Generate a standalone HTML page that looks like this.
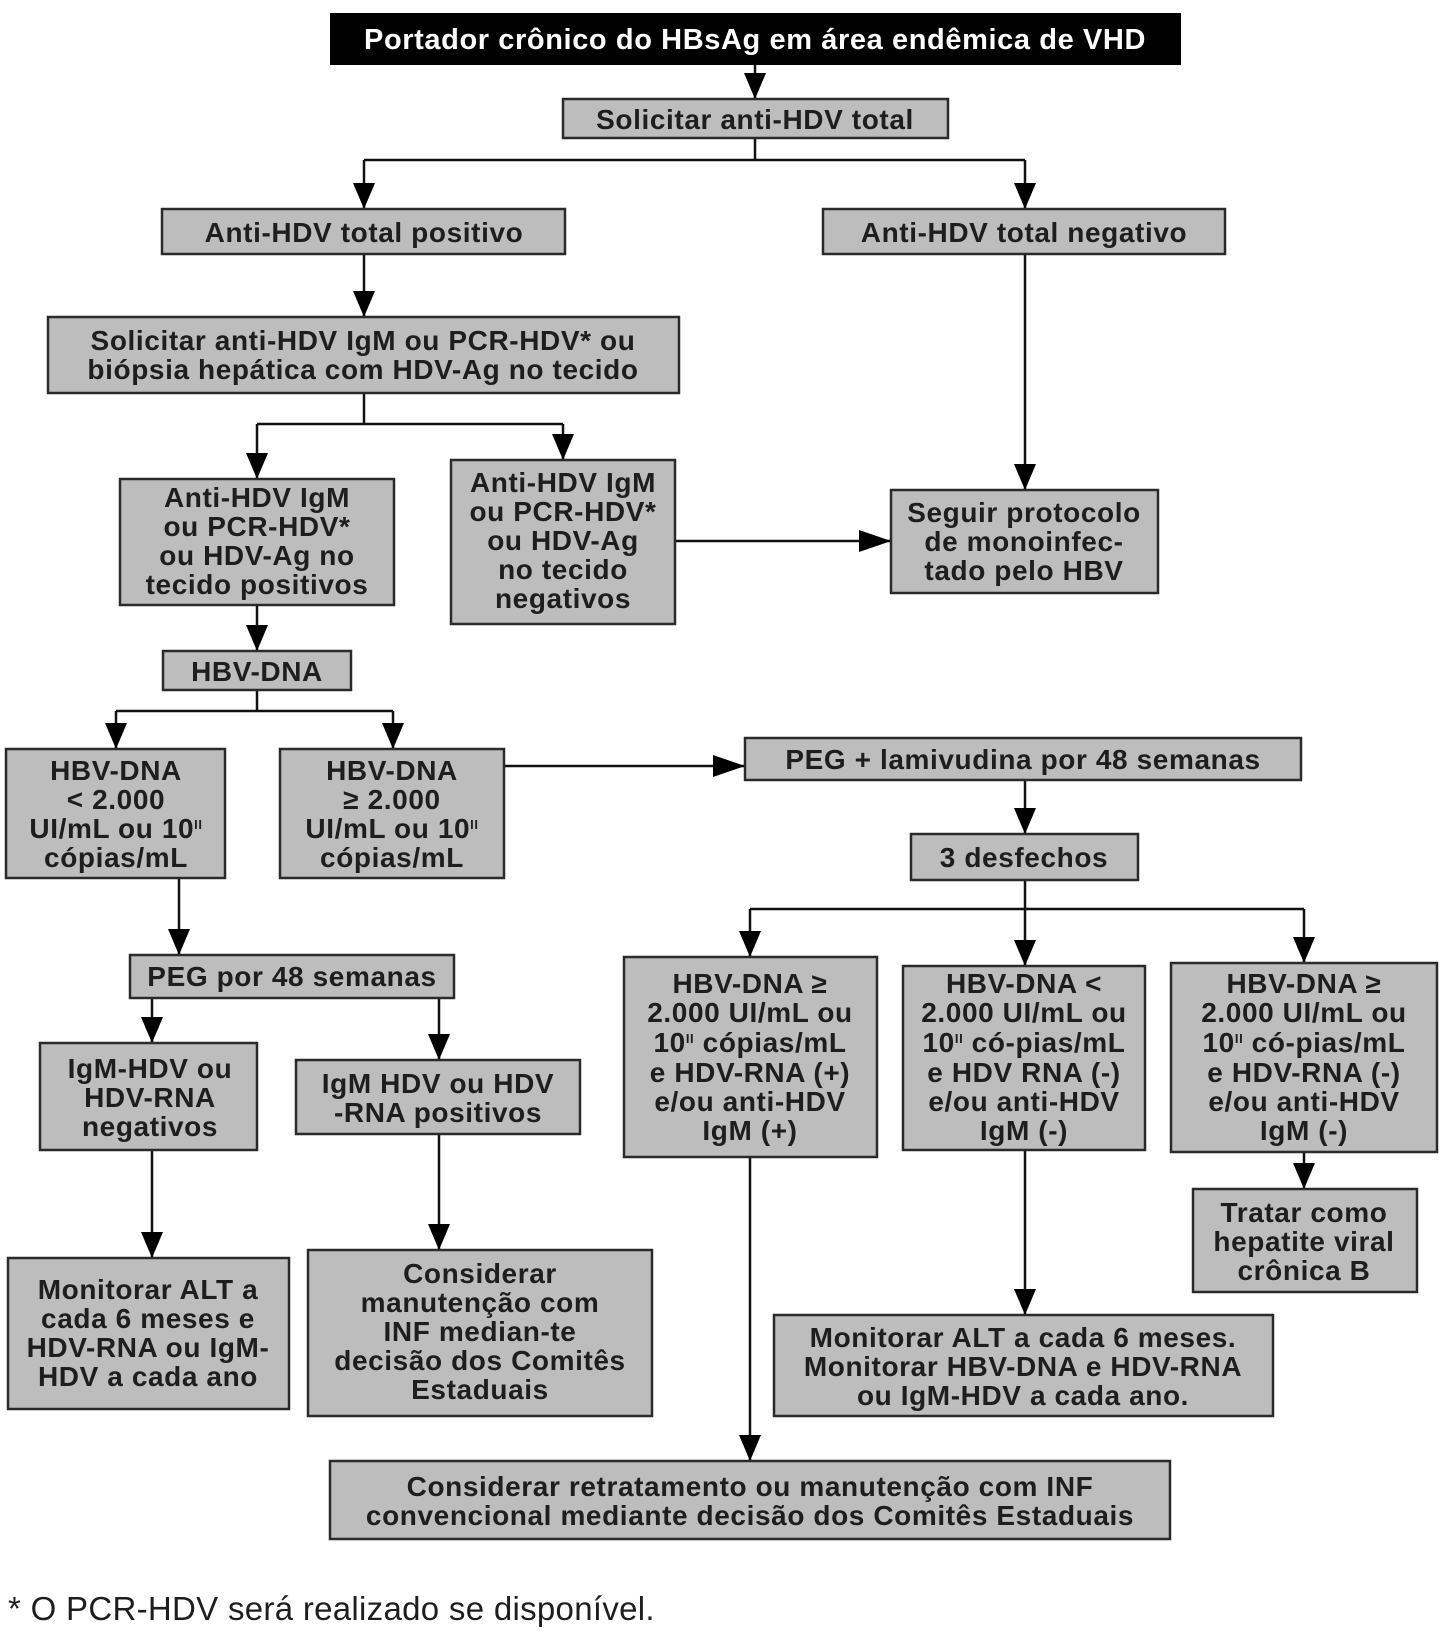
<!DOCTYPE html>
<html><head><meta charset="utf-8"><style>
html,body{margin:0;padding:0;background:#fff}
svg{display:block}
text{font-family:"Liberation Sans",sans-serif;font-weight:bold;font-size:28px;letter-spacing:0.6px;fill:#1e1e1e;text-anchor:middle}
.b{fill:#bdbdbd;stroke:#2a2a2a;stroke-width:2.5}
.l{stroke:#111;stroke-width:2.5;fill:none}
.a{fill:#000}
</style></head><body>
<svg width="1452" height="1631" viewBox="0 0 1452 1631" xmlns="http://www.w3.org/2000/svg">
<g class="l">
<path d="M755 65V99"/>
<path d="M755 138V160M364 160H1025M364 160V209M1025 160V209"/>
<path d="M364 254V317"/>
<path d="M364 393V424M257 424H563M257 424V479M563 424V460"/>
<path d="M1025 254V490"/>
<path d="M675 541H891"/>
<path d="M257 605V651"/>
<path d="M257 690V711M116 711H393M116 711V749M393 711V749"/>
<path d="M504 766H745"/>
<path d="M179 878V955"/>
<path d="M152 998V1043M439 998V1060"/>
<path d="M152 1150V1258M439 1134V1250"/>
<path d="M1025 780V834"/>
<path d="M1025 880V909M750 909H1304M750 909V957M1025 909V966M1304 909V963"/>
<path d="M750 1157V1461M1025 1150V1315M1304 1152V1189"/>
</g>
<g class="a">
<polygon points="744,73 766,73 755,99"/>
<polygon points="353,183 375,183 364,209"/>
<polygon points="1014,183 1036,183 1025,209"/>
<polygon points="353,291 375,291 364,317"/>
<polygon points="246,453 268,453 257,479"/>
<polygon points="552,434 574,434 563,460"/>
<polygon points="1014,464 1036,464 1025,490"/>
<polygon points="859,530 859,552 891,541"/>
<polygon points="246,625 268,625 257,651"/>
<polygon points="105,723 127,723 116,749"/>
<polygon points="382,723 404,723 393,749"/>
<polygon points="713,755 713,777 745,766"/>
<polygon points="168,929 190,929 179,955"/>
<polygon points="141,1017 163,1017 152,1043"/>
<polygon points="428,1034 450,1034 439,1060"/>
<polygon points="141,1232 163,1232 152,1258"/>
<polygon points="428,1224 450,1224 439,1250"/>
<polygon points="1014,808 1036,808 1025,834"/>
<polygon points="739,931 761,931 750,957"/>
<polygon points="1014,940 1036,940 1025,966"/>
<polygon points="1293,937 1315,937 1304,963"/>
<polygon points="739,1435 761,1435 750,1461"/>
<polygon points="1014,1289 1036,1289 1025,1315"/>
<polygon points="1293,1163 1315,1163 1304,1189"/>
</g>
<rect x="330" y="13" width="851" height="52" fill="#000"/>
<text x="755" y="49" style="fill:#fff;font-size:29px">Portador crônico do HBsAg em área endêmica de VHD</text>

<rect class="b" x="563" y="99" width="385" height="39"/>
<text x="755" y="129">Solicitar anti-HDV total</text>

<rect class="b" x="162" y="209" width="403" height="45"/>
<text x="364" y="242">Anti-HDV total positivo</text>
<rect class="b" x="823" y="209" width="402" height="45"/>
<text x="1024" y="242">Anti-HDV total negativo</text>

<rect class="b" x="48" y="317" width="631" height="76"/>
<text x="363" y="350">Solicitar anti-HDV IgM ou PCR-HDV* ou</text>
<text x="363" y="379">biópsia hepática com HDV-Ag no tecido</text>

<rect class="b" x="120" y="479" width="274" height="126"/>
<text x="257" y="507">Anti-HDV IgM<tspan x="257" dy="29">ou PCR-HDV*</tspan><tspan x="257" dy="29">ou HDV-Ag no</tspan><tspan x="257" dy="29">tecido positivos</tspan></text>

<rect class="b" x="451" y="460" width="224" height="164"/>
<text x="563" y="492">Anti-HDV IgM<tspan x="563" dy="29">ou PCR-HDV*</tspan><tspan x="563" dy="29">ou HDV-Ag</tspan><tspan x="563" dy="29">no tecido</tspan><tspan x="563" dy="29">negativos</tspan></text>

<rect class="b" x="891" y="490" width="267" height="103"/>
<text x="1024" y="522">Seguir protocolo<tspan x="1024" dy="29">de monoinfec-</tspan><tspan x="1024" dy="29">tado pelo HBV</tspan></text>

<rect class="b" x="163" y="651" width="188" height="39"/>
<text x="257" y="681">HBV-DNA</text>

<rect class="b" x="6" y="749" width="219" height="129"/>
<text x="116" y="780">HBV-DNA<tspan x="116" dy="29">&lt; 2.000</tspan><tspan x="116" dy="29">UI/mL ou 10<tspan font-size="13" dy="-9">II</tspan></tspan><tspan x="116" dy="38">cópias/mL</tspan></text>

<rect class="b" x="280" y="749" width="224" height="129"/>
<text x="392" y="780">HBV-DNA<tspan x="392" dy="29">≥ 2.000</tspan><tspan x="392" dy="29">UI/mL ou 10<tspan font-size="13" dy="-9">II</tspan></tspan><tspan x="392" dy="38">cópias/mL</tspan></text>

<rect class="b" x="745" y="738" width="556" height="42"/>
<text x="1023" y="769">PEG + lamivudina por 48 semanas</text>

<rect class="b" x="911" y="834" width="227" height="46"/>
<text x="1024" y="867">3 desfechos</text>

<rect class="b" x="130" y="955" width="324" height="43"/>
<text x="292" y="986">PEG por 48 semanas</text>

<rect class="b" x="40" y="1043" width="217" height="107"/>
<text x="150" y="1078">IgM-HDV ou<tspan x="150" dy="29">HDV-RNA</tspan><tspan x="150" dy="29">negativos</tspan></text>

<rect class="b" x="296" y="1060" width="284" height="74"/>
<text x="438" y="1093">IgM HDV ou HDV<tspan x="438" dy="29">-RNA positivos</tspan></text>

<rect class="b" x="8" y="1258" width="281" height="151"/>
<text x="148" y="1299">Monitorar ALT a<tspan x="148" dy="29">cada 6 meses e</tspan><tspan x="148" dy="29">HDV-RNA ou IgM-</tspan><tspan x="148" dy="29">HDV a cada ano</tspan></text>

<rect class="b" x="308" y="1250" width="344" height="166"/>
<text x="480" y="1283">Considerar<tspan x="480" dy="29">manutenção com</tspan><tspan x="480" dy="29">INF median-te</tspan><tspan x="480" dy="29">decisão dos Comitês</tspan><tspan x="480" dy="29">Estaduais</tspan></text>

<rect class="b" x="624" y="957" width="253" height="200"/>
<text x="750" y="993">HBV-DNA ≥<tspan x="750" dy="29">2.000 UI/mL ou</tspan><tspan x="750" dy="30">10<tspan font-size="13" dy="-9">II</tspan><tspan dy="9"> cópias/mL</tspan></tspan><tspan x="750" dy="30">e HDV-RNA (+)</tspan><tspan x="750" dy="29">e/ou anti-HDV</tspan><tspan x="750" dy="29">IgM (+)</tspan></text>

<rect class="b" x="903" y="966" width="242" height="184"/>
<text x="1024" y="993">HBV-DNA &lt;<tspan x="1024" dy="29">2.000 UI/mL ou</tspan><tspan x="1024" dy="30">10<tspan font-size="13" dy="-9">II</tspan><tspan dy="9"> có-pias/mL</tspan></tspan><tspan x="1024" dy="30">e HDV RNA (-)</tspan><tspan x="1024" dy="29">e/ou anti-HDV</tspan><tspan x="1024" dy="29">IgM (-)</tspan></text>

<rect class="b" x="1171" y="963" width="266" height="189"/>
<text x="1304" y="993">HBV-DNA ≥<tspan x="1304" dy="29">2.000 UI/mL ou</tspan><tspan x="1304" dy="30">10<tspan font-size="13" dy="-9">II</tspan><tspan dy="9"> có-pias/mL</tspan></tspan><tspan x="1304" dy="30">e HDV-RNA (-)</tspan><tspan x="1304" dy="29">e/ou anti-HDV</tspan><tspan x="1304" dy="29">IgM (-)</tspan></text>

<rect class="b" x="1193" y="1189" width="224" height="103"/>
<text x="1304" y="1222">Tratar como<tspan x="1304" dy="29">hepatite viral</tspan><tspan x="1304" dy="29">crônica B</tspan></text>

<rect class="b" x="774" y="1315" width="499" height="101"/>
<text x="1023" y="1347">Monitorar ALT a cada 6 meses.<tspan x="1023" dy="29">Monitorar HBV-DNA e HDV-RNA</tspan><tspan x="1023" dy="29">ou IgM-HDV a cada ano.</tspan></text>

<rect class="b" x="330" y="1461" width="840" height="78"/>
<text x="750" y="1496">Considerar retratamento ou manutenção com INF<tspan x="750" dy="29">convencional mediante decisão dos Comitês Estaduais</tspan></text>

<text x="8" y="1620" style="text-anchor:start;font-weight:normal;font-size:33px;letter-spacing:0.3px">* O PCR-HDV será realizado se disponível.</text>
</svg>
</body></html>
